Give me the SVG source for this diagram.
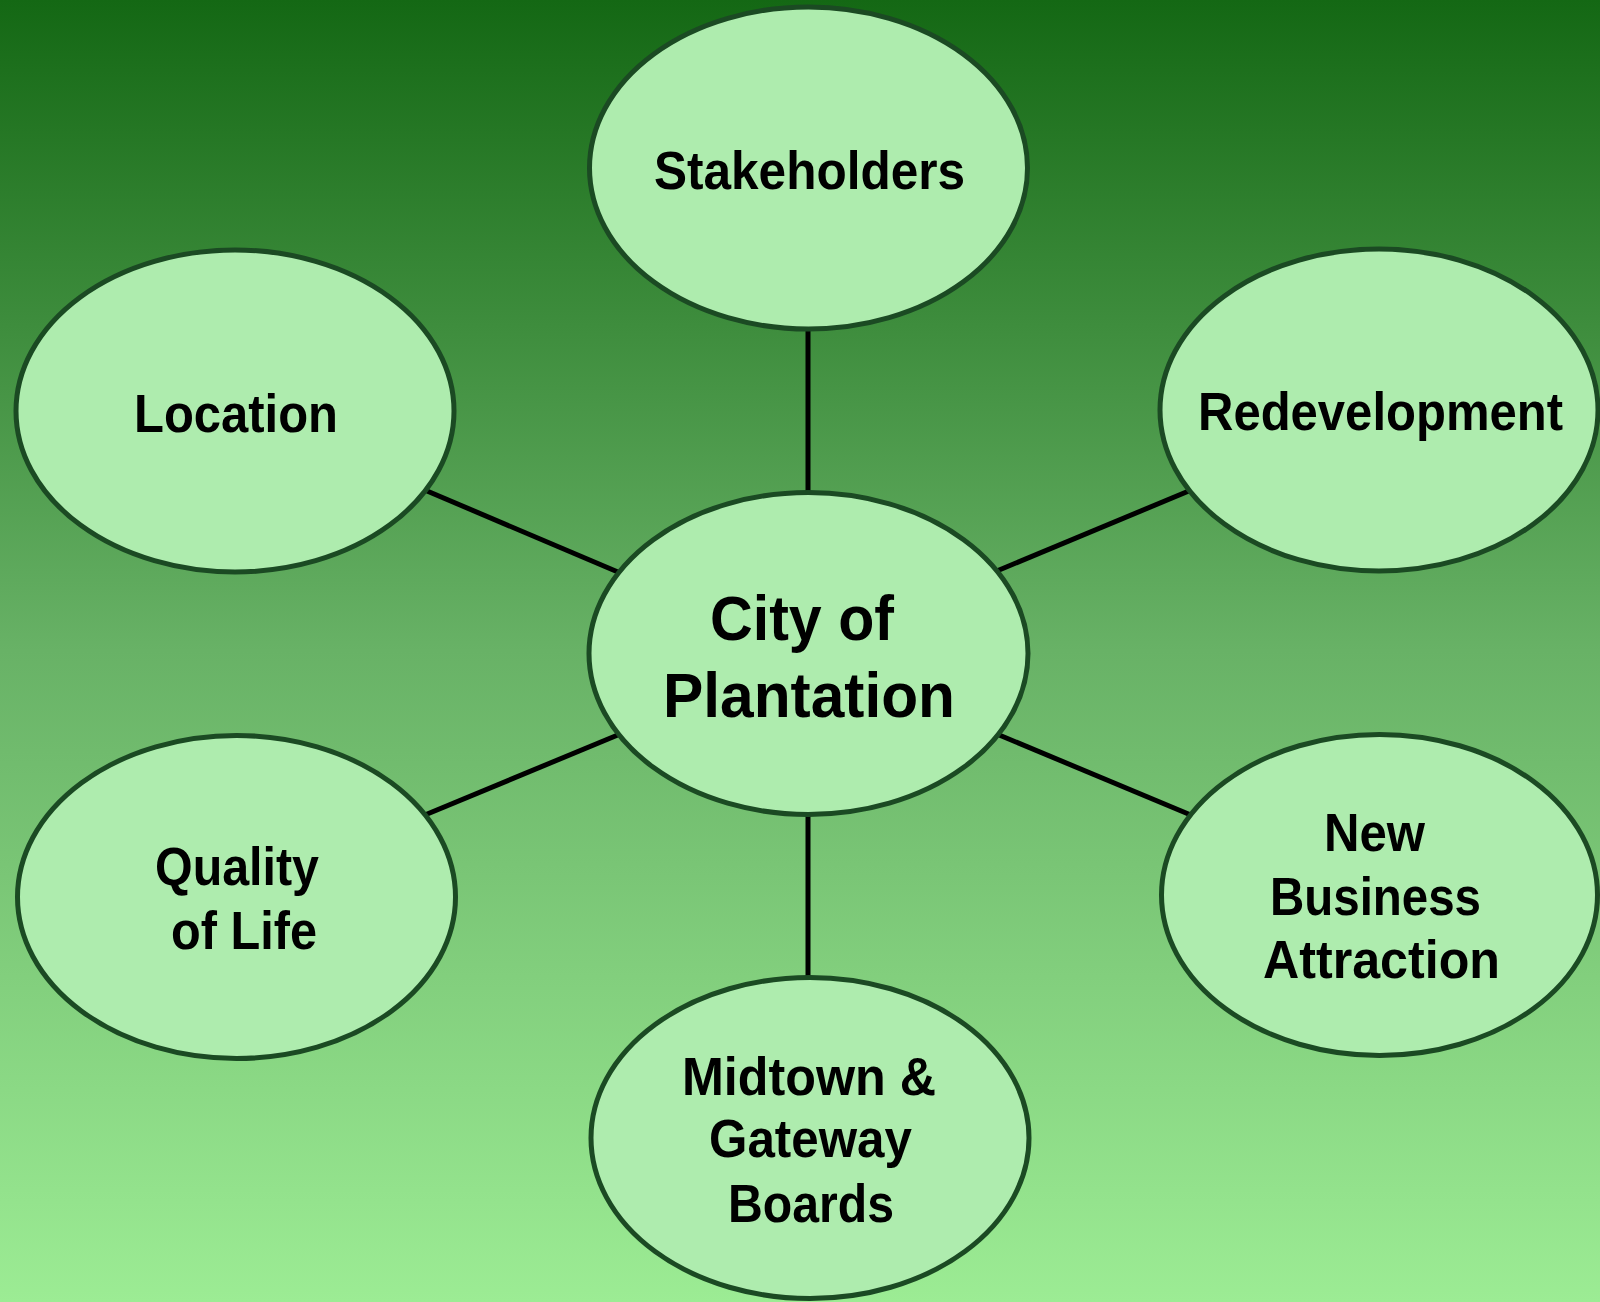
<svg xmlns="http://www.w3.org/2000/svg" width="1600" height="1302" viewBox="0 0 1600 1302">
<defs>
<linearGradient id="bg" x1="0" y1="0" x2="0" y2="1">
<stop offset="0" stop-color="#146814"/>
<stop offset="0.5" stop-color="#68b266"/>
<stop offset="1" stop-color="#9cec94"/>
</linearGradient>
<style>
.node ellipse{fill:#aeecae;stroke:#1b4a23;stroke-width:5}
.node text{font-family:"Liberation Sans Narrow","Liberation Sans",Arial,sans-serif;font-weight:bold;font-size:53px;fill:#000}
.node text.big{font-size:63px}
.conn line{stroke:#000;stroke-width:5}
</style>
</defs>
<rect width="1600" height="1302" fill="url(#bg)"/>
<g id="connectors" class="conn">
<line x1="808" y1="320" x2="808" y2="500"/>
<line x1="808" y1="810" x2="808" y2="985"/>
<line x1="420" y1="488" x2="625" y2="575"/>
<line x1="992" y1="573" x2="1196" y2="488"/>
<line x1="420" y1="817" x2="625" y2="732"/>
<line x1="992" y1="732" x2="1198" y2="818"/>
</g>
<g id="stakeholders" class="node">
<ellipse cx="808.5" cy="168" rx="219" ry="161"/>
<text x="654" y="188.5" textLength="311" lengthAdjust="spacingAndGlyphs">Stakeholders</text>
</g>
<g id="location" class="node">
<ellipse cx="235" cy="411" rx="219" ry="161"/>
<text x="134" y="432" textLength="204" lengthAdjust="spacingAndGlyphs">Location</text>
</g>
<g id="redevelopment" class="node">
<ellipse cx="1379" cy="410" rx="219" ry="161"/>
<text x="1198" y="430" textLength="365" lengthAdjust="spacingAndGlyphs">Redevelopment</text>
</g>
<g id="city" class="node">
<ellipse cx="808.5" cy="653.5" rx="219.5" ry="161"/>
<text class="big" x="710" y="640" textLength="184" lengthAdjust="spacingAndGlyphs">City of</text>
<text class="big" x="663" y="716.5" textLength="292" lengthAdjust="spacingAndGlyphs">Plantation</text>
</g>
<g id="quality" class="node">
<ellipse cx="236.5" cy="897" rx="219" ry="161.5"/>
<text x="155" y="885" textLength="164" lengthAdjust="spacingAndGlyphs">Quality</text>
<text x="171" y="949" textLength="146" lengthAdjust="spacingAndGlyphs">of Life</text>
</g>
<g id="newbusiness" class="node">
<ellipse cx="1379.5" cy="895" rx="218" ry="160.5"/>
<text x="1324" y="851" textLength="101" lengthAdjust="spacingAndGlyphs">New</text>
<text x="1270" y="915" textLength="211" lengthAdjust="spacingAndGlyphs">Business</text>
<text x="1263" y="978" textLength="237" lengthAdjust="spacingAndGlyphs">Attraction</text>
</g>
<g id="midtown" class="node">
<ellipse cx="810" cy="1138" rx="219" ry="160.5"/>
<text x="682" y="1095" textLength="254" lengthAdjust="spacingAndGlyphs">Midtown &amp;</text>
<text x="709" y="1157" textLength="203" lengthAdjust="spacingAndGlyphs">Gateway</text>
<text x="728" y="1222" textLength="166" lengthAdjust="spacingAndGlyphs">Boards</text>
</g>
</svg>
